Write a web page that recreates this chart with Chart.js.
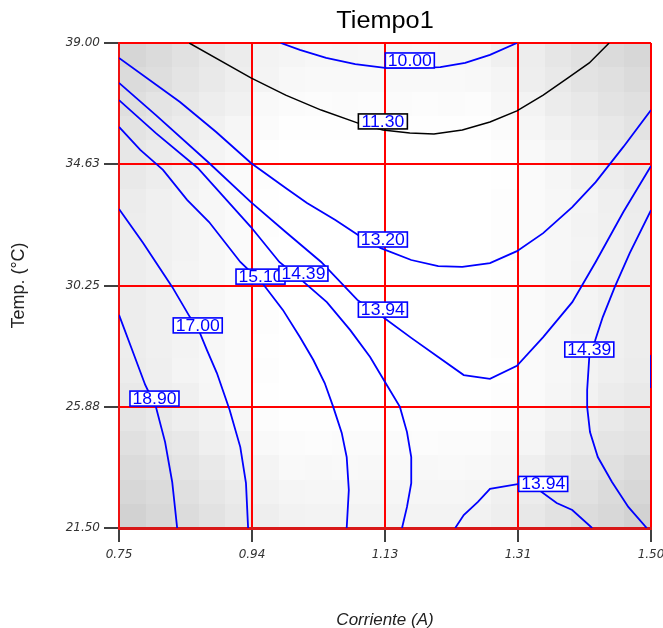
<!DOCTYPE html>
<html>
<head>
<meta charset="utf-8">
<script src="https://cdn.jsdelivr.net/npm/chart.js@4/dist/chart.umd.min.js"></script>
<style>
  html, body { margin: 0; padding: 0; background: #ffffff; }
  #wrap { width: 663px; height: 628px; }
</style>
</head>
<body>
<div id="wrap"><canvas id="chart" width="663" height="628"></canvas></div>
<script>
// Axis ticks
const xTicks = [0.75, 0.9375, 1.125, 1.3125, 1.5];
const xTickLabels = ['0.75', '0.94', '1.13', '1.31', '1.50'];
const yTicks = [21.5, 25.875, 30.25, 34.625, 39];
const yTickLabels = ['21.50', '25.88', '30.25', '34.63', '39.00'];

// Contour paths: Corriente (A) vs Temp. (°C), one pair of arrays per iso-line
const c1000X = [0.978, 1.005, 1.042, 1.083, 1.125, 1.167, 1.203, 1.238, 1.273, 1.311];
const c1000Y = [39.00, 38.75, 38.46, 38.24, 38.10, 38.10, 38.13, 38.28, 38.57, 39.00];

const c1130X = [0.849, 0.936, 0.985, 1.035, 1.087, 1.122, 1.160, 1.194, 1.234, 1.273, 1.311, 1.348, 1.383, 1.413, 1.441];
const c1130Y = [39.00, 37.74, 37.12, 36.58, 36.11, 35.86, 35.75, 35.72, 35.86, 36.15, 36.55, 37.12, 37.74, 38.28, 39.00];

const c1320X = [0.750, 0.836, 0.887, 0.936, 0.985, 1.015, 1.055, 1.087, 1.119, 1.162, 1.200, 1.234, 1.273, 1.311, 1.348, 1.389, 1.422, 1.461, 1.500];
const c1320Y = [38.46, 36.87, 35.79, 34.67, 33.77, 33.23, 32.61, 32.07, 31.60, 31.17, 30.95, 30.92, 31.06, 31.49, 32.14, 33.08, 33.98, 35.25, 36.58];

const c1394X = [0.750, 0.802, 0.877, 0.936, 0.985, 1.035, 1.086, 1.122, 1.162, 1.200, 1.236, 1.273, 1.311, 1.348, 1.389, 1.422, 1.461, 1.500];
const c1394Y = [37.56, 36.40, 34.67, 33.26, 32.18, 31.10, 29.73, 29.11, 28.36, 27.67, 27.02, 26.88, 27.35, 28.39, 29.65, 31.10, 32.90, 34.56];

const c1439X = [0.750, 0.802, 0.861, 0.936, 0.976, 1.009, 1.043, 1.076, 1.104, 1.125, 1.146, 1.156, 1.162, 1.162, 1.156, 1.149];
const c1439Y = [36.94, 35.75, 34.49, 32.36, 31.10, 30.41, 29.65, 28.64, 27.67, 26.77, 25.87, 24.96, 24.06, 23.12, 22.26, 21.50];

const c1510X = [0.750, 0.780, 0.812, 0.846, 0.877, 0.921, 0.952, 0.981, 1.005, 1.024, 1.040, 1.052, 1.064, 1.071, 1.074, 1.071];
const c1510Y = [35.97, 35.14, 34.42, 33.34, 32.54, 31.10, 30.34, 29.37, 28.39, 27.56, 26.73, 25.87, 24.93, 24.06, 22.87, 21.50];

const c1700X = [0.750, 0.784, 0.825, 0.850, 0.864, 0.874, 0.888, 0.906, 0.921, 0.929, 0.932];
const c1700Y = [33.01, 31.78, 30.20, 29.11, 28.54, 27.92, 27.09, 25.76, 24.42, 23.12, 21.50];

const c1890X = [0.750, 0.767, 0.787, 0.802, 0.815, 0.825, 0.832];
const c1890Y = [29.19, 28.03, 26.66, 25.87, 24.60, 23.16, 21.50];

const c1439bX = [1.500, 1.470, 1.449, 1.432, 1.421, 1.413, 1.410, 1.410, 1.414, 1.425, 1.445, 1.468, 1.494];
const c1439bY = [32.97, 31.42, 30.20, 29.11, 28.25, 27.67, 26.48, 25.87, 24.96, 24.06, 23.16, 22.26, 21.50];

const c1394bX = [1.224, 1.236, 1.256, 1.273, 1.314, 1.344, 1.367, 1.389, 1.417];
const c1394bY = [21.50, 21.97, 22.44, 22.91, 23.09, 22.83, 22.40, 22.15, 21.50];

const c1510bX = [1.500, 1.500];
const c1510bY = [27.74, 26.55];

// Iso-line levels, in the same order as the paths below
const levels = [10.00, 11.30, 13.20, 13.94, 14.39, 15.10, 17.00, 18.90, 14.39, 13.94, 15.10];
const pathsX = [c1000X, c1130X, c1320X, c1394X, c1439X, c1510X, c1700X, c1890X, c1439bX, c1394bX, c1510bX];
const pathsY = [c1000Y, c1130Y, c1320Y, c1394Y, c1439Y, c1510Y, c1700Y, c1890Y, c1439bY, c1394bY, c1510bY];

// In-line level labels: which path they belong to and where they sit
const labelPath = [0, 1, 2, 3, 5, 4, 6, 7, 8, 9];
const labelX = [1.160, 1.122, 1.122, 1.122, 0.9495, 1.010, 0.861, 0.800, 1.413, 1.348];
const labelY = [38.37, 36.17, 31.91, 29.38, 30.57, 30.68, 28.81, 26.17, 27.94, 23.09];

const lineColor = (lvl) => (lvl === 11.30 ? '#000000' : '#0000ff');

const datasets = levels.map((lvl, k) => ({
  label: lvl.toFixed(2),
  data: pathsX[k].map((x, i) => ({ x: x, y: pathsY[k][i] })),
  showLine: true,
  borderColor: lineColor(lvl),
  borderWidth: lvl === 11.30 ? 1.5 : 1.8,
  pointRadius: 0,
  tension: 0,
  fill: false
}));

// Grey response-surface backdrop, drawn coarse and blown up into cells
const backdrop = {
  id: 'backdrop',
  beforeDraw(chart) {
    const { ctx, chartArea: a } = chart;
    const n = 20, m = 20;
    const off = document.createElement('canvas');
    off.width = n; off.height = m;
    const o = off.getContext('2d');
    o.fillStyle = '#ffffff';
    o.fillRect(0, 0, n, m);
    const corners = [[0, 0, 0.07], [n, 0, 0.07], [0, m, 0.08], [n, m, 0.08]];
    corners.forEach(([cx, cy, al]) => {
      const g = o.createRadialGradient(cx, cy, 0, cx, cy, 7);
      g.addColorStop(0, 'rgba(0,0,0,' + al + ')');
      g.addColorStop(1, 'rgba(0,0,0,0)');
      o.fillStyle = g;
      o.fillRect(0, 0, n, m);
    });
    const band = (x0, y0, x1, y1, al) => {
      const g = o.createLinearGradient(x0, y0, x1, y1);
      g.addColorStop(0, 'rgba(0,0,0,' + al + ')');
      g.addColorStop(1, 'rgba(0,0,0,0)');
      o.fillStyle = g;
      o.fillRect(0, 0, n, m);
    };
    band(0, 0, 6, 0, 0.08);
    band(n, 0, n - 6, 0, 0.08);
    band(0, 0, 0, 4, 0.04);
    band(0, m, 0, m - 5, 0.05);
    ctx.save();
    ctx.imageSmoothingEnabled = false;
    ctx.drawImage(off, a.left, a.top, a.right - a.left, a.bottom - a.top);
    ctx.restore();
  }
};

// Boxed level labels on the iso-lines
const levelLabels = {
  id: 'levelLabels',
  afterDatasetsDraw(chart) {
    const { ctx, scales: { x, y } } = chart;
    ctx.save();
    labelPath.forEach((k, i) => {
      const px = x.getPixelForValue(labelX[i]);
      const py = y.getPixelForValue(labelY[i]);
      const w = 49, h = 15;
      ctx.fillStyle = '#ffffff';
      ctx.fillRect(px - w / 2, py - h / 2, w, h);
      ctx.strokeStyle = lineColor(levels[k]);
      ctx.lineWidth = 1.6;
      ctx.strokeRect(px - w / 2, py - h / 2, w, h);
      ctx.save();
      ctx.translate(px, py + 1);
      ctx.scale(1.1, 1);
      ctx.fillStyle = '#0000ff';
      ctx.font = '16px "Liberation Sans", Arial, sans-serif';
      ctx.textAlign = 'center';
      ctx.textBaseline = 'middle';
      ctx.fillText(levels[k].toFixed(2), 0, 0);
      ctx.restore();
    });
    ctx.restore();
  }
};

// Heading centred over the plot area
const heading = {
  id: 'heading',
  afterDraw(chart) {
    const { ctx, chartArea: a } = chart;
    ctx.save();
    ctx.translate((a.left + a.right) / 2, 22);
    ctx.scale(1.1, 1);
    ctx.fillStyle = '#000000';
    ctx.font = '23px "Liberation Sans", Arial, sans-serif';
    ctx.textAlign = 'center';
    ctx.textBaseline = 'middle';
    ctx.fillText('Tiempo1', 0, 0);
    ctx.restore();
  }
};

const tickFont = { family: '"DejaVu Sans", sans-serif', size: 12, style: 'italic' };

new Chart(document.getElementById('chart'), {
  type: 'scatter',
  data: { datasets: datasets },
  plugins: [backdrop, levelLabels, heading],
  options: {
    responsive: false,
    animation: false,
    events: [],
    layout: { padding: { top: 43, right: 12, left: 0, bottom: 0 } },
    plugins: {
      legend: { display: false },
      tooltip: { enabled: false },
      title: { display: false }
    },
    scales: {
      x: {
        type: 'linear',
        min: 0.75,
        max: 1.5,
        afterBuildTicks: (s) => { s.ticks = xTicks.map(v => ({ value: v })); },
        afterFit: (s) => { s.height = 100; s.paddingLeft = 0; s.paddingRight = 0; },
        ticks: {
          callback: (v, i) => xTickLabels[i],
          font: tickFont,
          color: '#333333',
          padding: 6,
          maxRotation: 0,
          autoSkip: false
        },
        grid: { color: '#ff0000', lineWidth: 2, tickColor: '#000000', tickLength: 14, tickWidth: 1.5 },
        border: { color: '#d81818', width: 3 },
        title: {
          display: true,
          text: 'Corriente (A)',
          font: { family: '"Liberation Sans", Arial, sans-serif', size: 17, style: 'italic' },
          color: '#222222',
          padding: { top: 0, bottom: -2 }
        }
      },
      y: {
        type: 'linear',
        min: 21.5,
        max: 39,
        afterBuildTicks: (s) => { s.ticks = yTicks.map(v => ({ value: v })); },
        afterFit: (s) => { s.width = 119; s.paddingTop = 0; s.paddingBottom = 0; },
        ticks: {
          callback: (v, i) => yTickLabels[i],
          font: tickFont,
          color: '#333333',
          padding: 4,
          autoSkip: false
        },
        grid: { color: '#ff0000', lineWidth: 2, tickColor: '#000000', tickLength: 15, tickWidth: 1.5 },
        border: { color: '#ee1111', width: 2 },
        title: {
          display: true,
          text: 'Temp. (°C)',
          font: { family: '"Liberation Sans", Arial, sans-serif', size: 18 },
          color: '#222222',
          padding: { top: 8, bottom: 0 }
        }
      }
    }
  }
});
</script>
</body>
</html>
